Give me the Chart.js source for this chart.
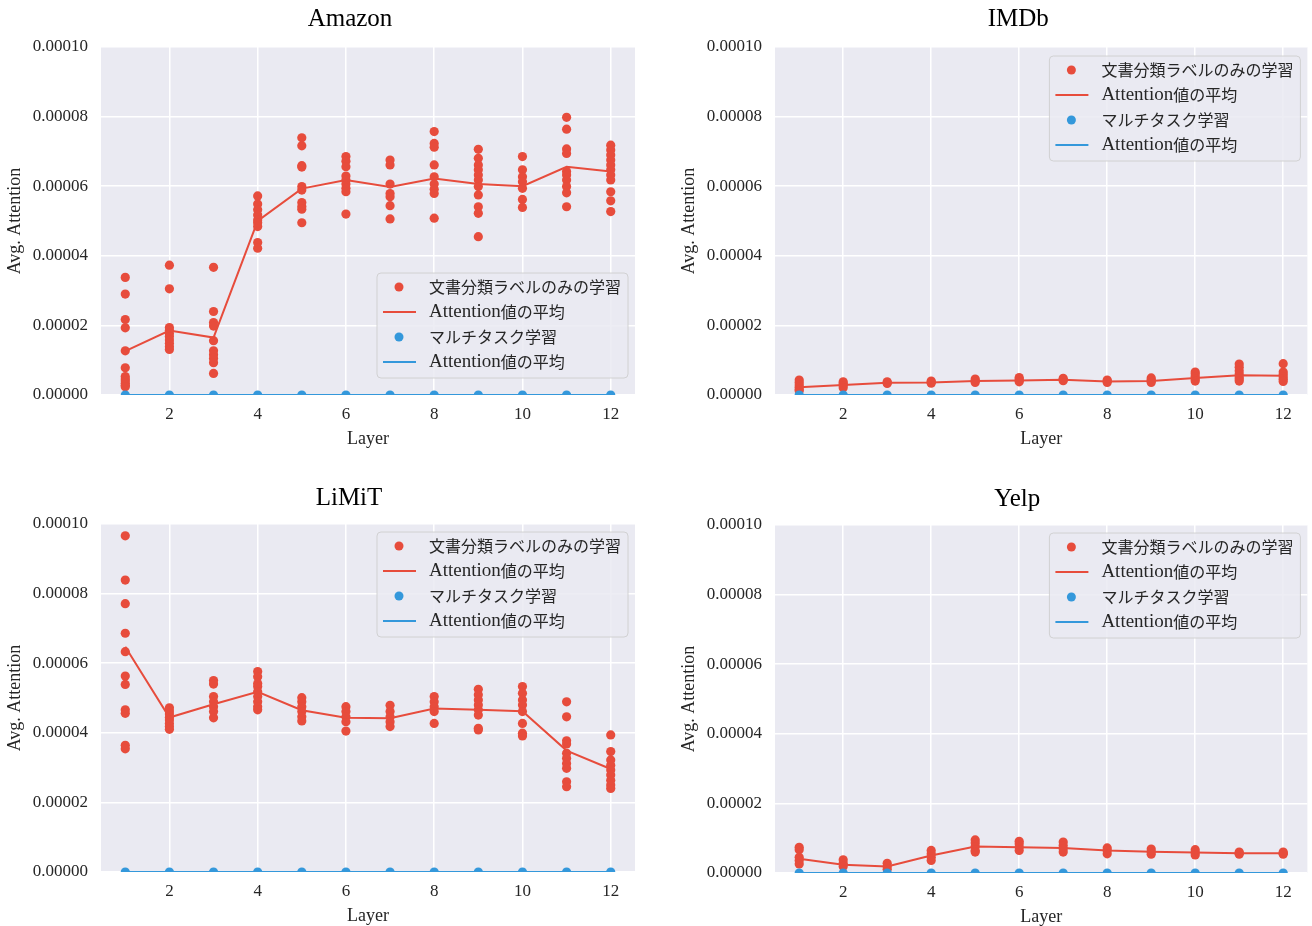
<!DOCTYPE html>
<html><head><meta charset="utf-8">
<script src="https://cdn.jsdelivr.net/npm/chart.js@4/dist/chart.umd.min.js"></script>
<style>
html,body{margin:0;padding:0;background:#fff;overflow:hidden;width:1312px;height:926px;}
canvas{position:absolute;}
</style></head><body>
<canvas id="c0" width="656" height="450" style="left:0px;top:0px"></canvas>
<canvas id="c1" width="638" height="450" style="left:674px;top:0px"></canvas>
<canvas id="c2" width="656" height="450" style="left:0px;top:477px"></canvas>
<canvas id="c3" width="638" height="450" style="left:674px;top:478px"></canvas>
<script>
// ---------- data ----------
const layers = [1,2,3,4,5,6,7,8,9,10,11,12];
const xTickValues = [2,4,6,8,10,12];
const yTickValues = [0, 0.00002, 0.00004, 0.00006, 0.00008, 0.0001];
const yTickLabels = ['0.00000','0.00002','0.00004','0.00006','0.00008','0.00010'];
const panelTitles = ['Amazon','IMDb','LiMiT','Yelp'];
const xAxisLabel = 'Layer';
const yAxisLabel = 'Avg. Attention';
const legendLabels = ['文書分類ラベルのみの学習','Attention値の平均','マルチタスク学習','Attention値の平均'];

// single-task (document label only): points per layer and mean line
const amazonSingle = [
  [33.8e-6,29.0e-6,21.7e-6,19.3e-6,12.7e-6,7.8e-6,5.3e-6,4.6e-6,4.0e-6,3.4e-6,2.8e-6,2.4e-6],
  [37.3e-6,30.5e-6,19.4e-6,18.6e-6,17.7e-6,16.8e-6,15.8e-6,14.9e-6,13.9e-6,13.1e-6],
  [36.7e-6,24.0e-6,20.8e-6,19.8e-6,15.6e-6,12.7e-6,11.6e-6,10.5e-6,9.3e-6,6.2e-6],
  [57.2e-6,54.9e-6,53.2e-6,51.7e-6,50.3e-6,49.5e-6,48.4e-6,43.8e-6,42.2e-6],
  [73.9e-6,71.6e-6,65.9e-6,65.5e-6,59.9e-6,58.9e-6,55.3e-6,54.2e-6,53.4e-6,49.5e-6],
  [68.5e-6,67.2e-6,65.6e-6,62.9e-6,61.8e-6,60.6e-6,59.4e-6,58.4e-6,52.0e-6],
  [67.5e-6,66.1e-6,60.6e-6,57.9e-6,57.0e-6,54.4e-6,50.6e-6],
  [75.7e-6,72.3e-6,71.2e-6,66.1e-6,62.7e-6,60.6e-6,59.1e-6,57.9e-6,50.8e-6],
  [70.6e-6,68.0e-6,66.1e-6,64.7e-6,63.2e-6,61.8e-6,59.9e-6,57.5e-6,54.1e-6,52.2e-6,45.5e-6],
  [68.5e-6,64.7e-6,62.7e-6,61.3e-6,59.4e-6,56.2e-6,53.9e-6],
  [79.8e-6,76.4e-6,70.7e-6,69.4e-6,64.2e-6,63.2e-6,61.8e-6,59.9e-6,58.1e-6,54.1e-6],
  [71.8e-6,70.4e-6,69.0e-6,67.5e-6,66.1e-6,64.7e-6,63.2e-6,61.8e-6,58.4e-6,55.8e-6,52.7e-6]
];
const amazonSingleMean = [12.6e-6,18.5e-6,16.5e-6,50.0e-6,59.3e-6,61.8e-6,59.8e-6,62.2e-6,60.6e-6,60.0e-6,65.6e-6,64.2e-6];

const imdbSingle = [
  [4.3e-6,3.6e-6,2.9e-6,2.2e-6,1.6e-6,1.2e-6],
  [3.8e-6,3.3e-6,2.7e-6,2.1e-6],
  [3.8e-6,3.5e-6,3.3e-6],
  [4.0e-6,3.7e-6,3.4e-6],
  [4.6e-6,4.1e-6,3.6e-6],
  [5.0e-6,4.6e-6,4.2e-6,3.8e-6],
  [4.8e-6,4.4e-6,4.1e-6],
  [4.3e-6,4.0e-6,3.6e-6],
  [4.9e-6,4.4e-6,4.0e-6,3.6e-6],
  [6.6e-6,6.0e-6,5.3e-6,4.6e-6,4.0e-6],
  [8.9e-6,8.0e-6,7.0e-6,6.0e-6,5.2e-6,4.6e-6,4.0e-6],
  [9.0e-6,6.6e-6,5.9e-6,5.2e-6,4.5e-6,3.9e-6]
];
const imdbSingleMean = [2.2e-6,2.9e-6,3.5e-6,3.6e-6,4.0e-6,4.2e-6,4.4e-6,3.9e-6,4.0e-6,4.9e-6,5.7e-6,5.5e-6];

const limitSingle = [
  [96.6e-6,83.9e-6,77.1e-6,68.6e-6,63.3e-6,56.3e-6,53.9e-6,46.6e-6,45.6e-6,36.4e-6,35.4e-6],
  [47.2e-6,46.3e-6,45.4e-6,44.4e-6,43.7e-6,42.7e-6,41.8e-6,41.0e-6],
  [55.0e-6,54.0e-6,50.4e-6,48.9e-6,47.5e-6,46.1e-6,44.3e-6],
  [57.6e-6,56.1e-6,54.2e-6,53.3e-6,51.8e-6,50.4e-6,48.9e-6,47.5e-6,46.6e-6],
  [50.1e-6,48.9e-6,47.5e-6,46.1e-6,44.6e-6,43.4e-6],
  [47.5e-6,46.1e-6,44.6e-6,43.2e-6,40.5e-6],
  [47.9e-6,46.1e-6,44.6e-6,43.2e-6,41.8e-6],
  [50.4e-6,48.9e-6,47.5e-6,46.1e-6,42.7e-6],
  [52.5e-6,50.9e-6,49.4e-6,48.0e-6,46.6e-6,45.1e-6,41.3e-6,40.8e-6],
  [53.3e-6,51.4e-6,49.4e-6,48.0e-6,46.1e-6,42.7e-6,39.9e-6,39.1e-6],
  [48.9e-6,44.6e-6,37.7e-6,36.8e-6,34.1e-6,32.7e-6,31.2e-6,29.8e-6,25.9e-6,24.5e-6],
  [39.4e-6,34.6e-6,32.2e-6,30.7e-6,29.3e-6,27.9e-6,26.4e-6,25.0e-6,24.0e-6]
];
const limitSingleMean = [64.7e-6,44.4e-6,48.2e-6,51.8e-6,46.5e-6,44.3e-6,44.2e-6,47.0e-6,46.6e-6,46.2e-6,34.9e-6,29.6e-6];

const yelpSingle = [
  [7.4e-6,6.7e-6,4.5e-6,3.6e-6,2.6e-6],
  [3.8e-6,2.8e-6,1.9e-6],
  [2.8e-6,1.9e-6,1.1e-6],
  [6.5e-6,5.5e-6,4.5e-6,3.6e-6],
  [9.5e-6,8.6e-6,7.6e-6,6.5e-6,6.0e-6],
  [9.1e-6,8.4e-6,7.4e-6,6.5e-6],
  [8.9e-6,7.9e-6,7.0e-6,6.0e-6],
  [7.2e-6,6.5e-6,5.5e-6],
  [6.9e-6,6.1e-6,5.4e-6],
  [6.7e-6,5.9e-6,5.2e-6],
  [6.0e-6,5.7e-6,5.4e-6],
  [6.0e-6,5.7e-6,5.4e-6]
];
const yelpSingleMean = [4.1e-6,2.4e-6,1.9e-6,5.0e-6,7.6e-6,7.4e-6,7.2e-6,6.5e-6,6.1e-6,5.9e-6,5.7e-6,5.7e-6];

// multi-task: values are at zero for every layer
const amazonMulti = [0,0,0,0,0,0,0,0,0,0,0,0];
const imdbMulti   = [0,0,0,0,0,0,0,0,0,0,0,0];
const limitMulti  = [0,0,0,0,0,0,0,0,0,0,0,0];
const yelpMulti   = [0,0,0,0,0,0,0,0,0,0,0,0];

// ---------- styling ----------
const RED = '#E74C3C', BLUE = '#3498DB';
const TEXT = '#262626';
const FONT = "'Liberation Serif', 'Noto Sans CJK JP', serif";
const LATIN_FONT = "'Liberation Serif', serif";
const CJK_FONT = "'Noto Sans CJK JP', sans-serif";
Chart.defaults.font.family = FONT;
Chart.defaults.font.size = 17;
Chart.defaults.color = TEXT;

const bgPlugin = {
  id: 'plotBg',
  beforeDraw(chart) {
    const {ctx, chartArea: a} = chart;
    ctx.save();
    ctx.fillStyle = '#EAEAF2';
    ctx.fillRect(a.left, a.top, a.right - a.left, a.bottom - a.top);
    ctx.restore();
  }
};

const panelTitle = {
  id: 'panelTitle',
  afterDraw(chart, args, opts) {
    const {ctx, chartArea: a} = chart;
    ctx.save();
    ctx.font = '25px ' + LATIN_FONT;
    ctx.fillStyle = '#000';
    ctx.textAlign = 'center';
    ctx.textBaseline = 'middle';
    ctx.fillText(opts.text, (a.left + a.right) / 2 + opts.dx, a.top - opts.dy);
    ctx.restore();
  }
};

// split a label into latin / CJK runs so each can use its own font
function runsOf(label) {
  const parts = label.match(/[\u0000-\u024F]+|[^\u0000-\u024F]+/g) || [];
  return parts.map(p => ({text: p, latin: /^[\u0000-\u024F]+$/.test(p)}));
}
function runFont(r) { return r.latin ? ('19px ' + LATIN_FONT) : ('16px ' + CJK_FONT); }

const boxLegend = {
  id: 'boxLegend',
  afterDraw(chart, args, opts) {
    const {ctx, chartArea: a} = chart;
    const entries = [
      {kind: 'point', color: RED, label: legendLabels[0]},
      {kind: 'line', color: RED, label: legendLabels[1]},
      {kind: 'point', color: BLUE, label: legendLabels[2]},
      {kind: 'line', color: BLUE, label: legendLabels[3]}
    ];
    ctx.save();
    const widthOf = lbl => runsOf(lbl).reduce((s, r) => { ctx.font = runFont(r); return s + ctx.measureText(r.text).width; }, 0);
    let maxW = 0;
    entries.forEach(e => { maxW = Math.max(maxW, widthOf(e.label)); });
    const rowH = 25, textX = 52;
    const w = textX + maxW + 7;
    const h = 14 + rowH * 3 + 16;
    const right = a.right - opts.dx;
    const left = right - w;
    const top = opts.anchor === 'bottom' ? a.bottom - opts.dy - h : a.top + opts.dy;
    const r = 4;
    ctx.beginPath();
    ctx.moveTo(left + r, top);
    ctx.lineTo(left + w - r, top);
    ctx.quadraticCurveTo(left + w, top, left + w, top + r);
    ctx.lineTo(left + w, top + h - r);
    ctx.quadraticCurveTo(left + w, top + h, left + w - r, top + h);
    ctx.lineTo(left + r, top + h);
    ctx.quadraticCurveTo(left, top + h, left, top + h - r);
    ctx.lineTo(left, top + r);
    ctx.quadraticCurveTo(left, top, left + r, top);
    ctx.closePath();
    ctx.fillStyle = 'rgba(234,234,242,0.85)';
    ctx.fill();
    ctx.strokeStyle = 'rgba(204,204,204,0.85)';
    ctx.lineWidth = 1;
    ctx.stroke();
    entries.forEach((e, i) => {
      const y = top + 14 + i * rowH;
      if (e.kind === 'point') {
        ctx.beginPath();
        ctx.arc(left + 22, y, 4.5, 0, Math.PI * 2);
        ctx.fillStyle = e.color;
        ctx.fill();
      } else {
        ctx.beginPath();
        ctx.moveTo(left + 6, y);
        ctx.lineTo(left + 39, y);
        ctx.strokeStyle = e.color;
        ctx.lineWidth = 2;
        ctx.stroke();
      }
      ctx.fillStyle = TEXT;
      ctx.textBaseline = 'middle';
      ctx.textAlign = 'left';
      let x = left + textX;
      runsOf(e.label).forEach(rn => {
        ctx.font = runFont(rn);
        ctx.fillText(rn.text, x, y);
        x += ctx.measureText(rn.text).width;
      });
    });
    ctx.restore();
  }
};

function pointsOf(perLayer) {
  const out = [];
  perLayer.forEach((vals, i) => vals.forEach(v => out.push({x: layers[i], y: v})));
  return out;
}
function lineOf(vals) { return vals.map((v, i) => ({x: layers[i], y: v})); }

function makeChart(id, title, single, singleMean, multi, legendPos, padRight, titlePos) {
  const ctx = document.getElementById(id);
  return new Chart(ctx, {
    type: 'scatter',
    data: {
      datasets: [
        {type: 'scatter', label: legendLabels[0], data: pointsOf(single), backgroundColor: RED, borderWidth: 0, pointRadius: 4.6, order: 3, clip: 0},
        {type: 'line', label: legendLabels[1], data: lineOf(singleMean), borderColor: RED, borderWidth: 2, pointRadius: 0, fill: false, tension: 0, order: 2, clip: 0},
        {type: 'scatter', label: legendLabels[2], data: lineOf(multi), backgroundColor: BLUE, borderWidth: 0, pointRadius: 4.6, order: 1, clip: 0},
        {type: 'line', label: legendLabels[3], data: lineOf(multi), borderColor: BLUE, borderWidth: 2, pointRadius: 0, fill: false, tension: 0, order: 0, clip: 0}
      ]
    },
    options: {
      responsive: false,
      animation: false,
      devicePixelRatio: 1,
      layout: {padding: {left: 0, right: padRight, top: 47, bottom: 0}},
      plugins: {
        legend: {display: false},
        tooltip: {enabled: false},
        title: {display: false},
        panelTitle: Object.assign({text: title}, titlePos),
        boxLegend: legendPos
      },
      scales: {
        x: {
          type: 'linear', min: 0.45, max: 12.55,
          afterBuildTicks: s => { s.ticks = xTickValues.map(v => ({value: v})); },
          afterFit: s => { s.height = 55; },
          ticks: {padding: 9, color: TEXT, font: {size: 17}, maxRotation: 0, autoSkip: false},
          grid: {color: '#ffffff', lineWidth: 1.5, drawTicks: false},
          border: {display: false},
          title: {display: true, text: xAxisLabel, color: TEXT, font: {size: 18}, padding: {top: 0, bottom: 0}}
        },
        y: {
          type: 'linear', min: 0, max: 0.0001,
          afterBuildTicks: s => { s.ticks = yTickValues.map(v => ({value: v})); },
          afterFit: s => { s.width = 101; },
          ticks: {padding: 13, color: TEXT, font: {size: 17}, callback: (v, i) => yTickLabels[i]},
          grid: {color: '#ffffff', lineWidth: 1.5, drawTicks: false},
          border: {display: false},
          title: {display: true, text: yAxisLabel, color: TEXT, font: {size: 18}, padding: {top: 4, bottom: 0}}
        }
      }
    },
    plugins: [bgPlugin, boxLegend, panelTitle]
  });
}

makeChart('c0', panelTitles[0], amazonSingle, amazonSingleMean, amazonMulti, {anchor: 'bottom', dx: 7, dy: 17}, 21, {dx: -18, dy: 28});
makeChart('c1', panelTitles[1], imdbSingle, imdbSingleMean, imdbMulti, {anchor: 'top', dx: 7, dy: 9}, 3, {dx: -23, dy: 28});
makeChart('c2', panelTitles[2], limitSingle, limitSingleMean, limitMulti, {anchor: 'top', dx: 7, dy: 8}, 21, {dx: -19, dy: 26});
makeChart('c3', panelTitles[3], yelpSingle, yelpSingleMean, yelpMulti, {anchor: 'top', dx: 7, dy: 8}, 3, {dx: -24, dy: 26});
</script>
</body></html>
